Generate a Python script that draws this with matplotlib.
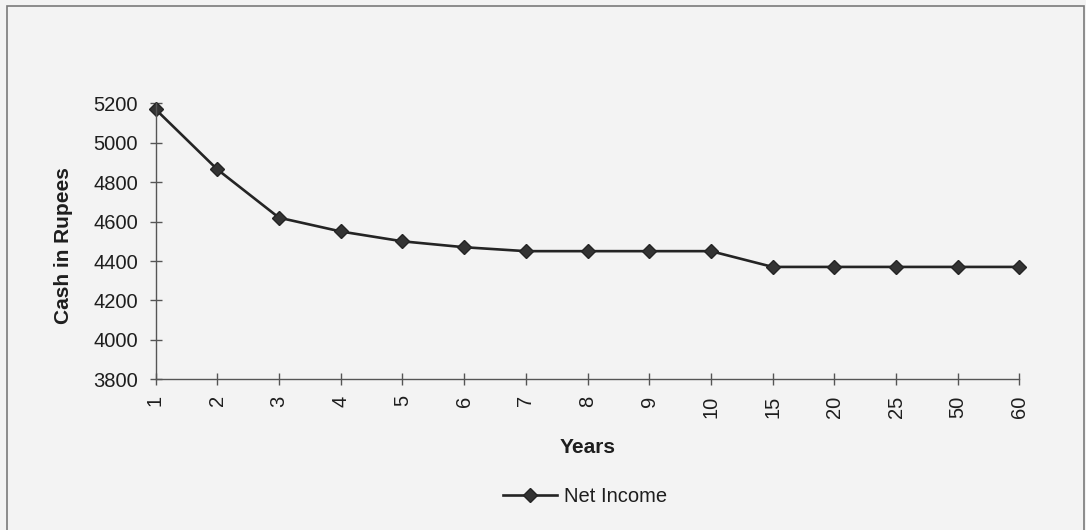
import matplotlib
matplotlib.use('Agg')
import matplotlib.pyplot as plt
from matplotlib.patches import Rectangle

# net income per year of operation
years = ['1', '2', '3', '4', '5', '6', '7', '8', '9', '10', '15', '20', '25', '50', '60']
net_income = [5170, 4865, 4620, 4550, 4500, 4470, 4450, 4450, 4450, 4450,
              4370, 4370, 4370, 4370, 4370]

plt.rcParams['font.family'] = ['Liberation Sans', 'DejaVu Sans']

W, H = 1086, 530
bg = '#f3f3f3'
fig = plt.figure(figsize=(W / 100, H / 100), dpi=100, facecolor=bg)
ax = fig.add_axes([155.5 / W, 1 - 379.3 / H, 864 / W, 276 / H])
ax.set_facecolor(bg)

x = range(len(years))
ax.plot(x, net_income, color='#242424', lw=1.9, marker='D', ms=7.2,
        mfc='#333333', mec='#242424', mew=1, label='Net Income', clip_on=False)

ax.set_xlim(0, len(years) - 1)
ax.set_ylim(3800, 5200)
ax.set_xticks(list(x))
ax.set_xticklabels(years, rotation=90)
ax.set_yticks(range(3800, 5201, 200))

for side in ['top', 'right']:
    ax.spines[side].set_visible(False)
for side in ['left', 'bottom']:
    ax.spines[side].set_color('#555555')
    ax.spines[side].set_linewidth(1)

ax.tick_params(direction='inout', length=9, width=1, color='#555555',
               labelsize=14.5, labelcolor='#1e1e1e')
ax.tick_params(axis='x', pad=7)
ax.tick_params(axis='y', pad=8)

ax.set_xlabel('Years', fontsize=15, fontweight='bold', color='#1e1e1e')
ax.set_ylabel('Cash in Rupees', fontsize=15, fontweight='bold', color='#1e1e1e')
ax.xaxis.set_label_coords(0.5, -0.212)
ax.yaxis.set_label_coords(-0.095, 0.483)

fig.legend(loc='center', bbox_to_anchor=(585 / W, 1 - 497 / H), frameon=False,
           fontsize=14.5, handlelength=2.7, handletextpad=0.35,
           labelcolor='#1e1e1e')

# chart border
fig.add_artist(Rectangle((7 / W, -0.02), (1084 - 7) / W, 1.02 - 6 / H,
                         transform=fig.transFigure, fill=False,
                         edgecolor='#7a7a7a', lw=1.2, clip_on=False))

fig.savefig('out.png', dpi=100, facecolor=bg)
